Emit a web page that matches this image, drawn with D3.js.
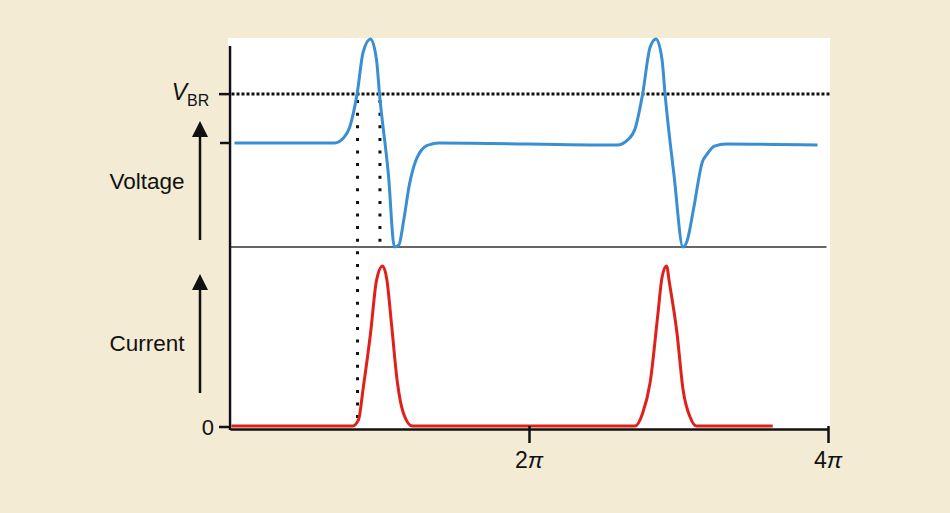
<!DOCTYPE html>
<html>
<head>
<meta charset="utf-8">
<script src="https://cdn.jsdelivr.net/npm/d3@7"></script>
<style>
  html, body { margin: 0; padding: 0; background: #f3ebd3; }
  svg { display: block; }
  text { font-family: "Liberation Sans", Arial, Helvetica, sans-serif; fill: #111; }
</style>
</head>
<body>
<svg id="chart" width="950" height="513"></svg>
<script>
// ---- data (x in units of π) ----
const voltX = [0.03,0.70,0.76,0.80,0.85,0.89,0.94,0.98,1.00,1.06,1.10,1.13,1.16,1.20,1.24,1.27,1.30,1.35,1.40,
               2.59,2.66,2.71,2.76,2.81,2.85,2.89,2.91,2.97,3.03,3.06,3.10,3.16,3.19,3.24,3.32,3.93];
const voltY = [1.0,1.0,1.05,1.15,1.47,1.87,2.0,1.80,1.47,0.69,0.0,0.02,0.24,0.60,0.82,0.91,0.96,0.99,1.0,
               0.98,1.03,1.14,1.47,1.92,2.0,1.80,1.47,0.69,0.0,0.07,0.36,0.82,0.89,0.97,0.99,0.98];
const currX = [0.01,0.82,0.86,0.89,0.94,0.98,1.02,1.05,1.08,1.12,1.16,1.22,
               2.71,2.76,2.81,2.86,2.89,2.92,2.94,2.99,3.03,3.08,3.12,3.63];
const currY = [0,0,0.04,0.23,0.58,0.91,1.0,0.91,0.64,0.27,0.08,0,
               0,0.08,0.27,0.68,0.93,1.0,0.89,0.58,0.23,0.05,0,0];
const vBreakdown = 1.47;      // V_BR level
const vBaseline = 1.0;        // quiescent voltage
const vbrCrossings = [0.853, 1.003];   // where the first pulse crosses V_BR
const xTickValues = [2, 4];
const xTickLabels = ["2", "4"];        // followed by italic π
const yLabelVoltage = "Voltage";
const yLabelCurrent = "Current";

// ---- scales ----
const svg = d3.select("#chart");
const x = d3.scaleLinear().domain([0, 4]).range([230, 828]);
const yV = d3.scaleLinear().domain([0, 2]).range([247, 39]);
const yC = d3.scaleLinear().domain([0, 1]).range([426, 266]);

// white plotting area
svg.append("rect").attr("x", 228).attr("y", 38).attr("width", 602).attr("height", 391).attr("fill", "#ffffff");

// voltage zero line
svg.append("line").attr("x1", x(0)).attr("x2", x(3.99)).attr("y1", yV(0)).attr("y2", yV(0))
  .attr("stroke", "#333").attr("stroke-width", 1.5);

// V_BR horizontal dotted line
svg.append("line").attr("x1", x(0.01)).attr("x2", 830).attr("y1", yV(vBreakdown)).attr("y2", yV(vBreakdown))
  .attr("stroke", "#111").attr("stroke-width", 3).attr("stroke-dasharray", "3 2");

// vertical dotted lines
svg.append("line").attr("x1", x(vbrCrossings[0])).attr("x2", x(vbrCrossings[0]))
  .attr("y1", yV(vBreakdown) + 6).attr("y2", yC(0))
  .attr("stroke", "#111").attr("stroke-width", 3).attr("stroke-dasharray", "3 9.6");
svg.append("line").attr("x1", x(vbrCrossings[1])).attr("x2", x(vbrCrossings[1]))
  .attr("y1", yV(vBreakdown) + 6).attr("y2", yV(0))
  .attr("stroke", "#111").attr("stroke-width", 3).attr("stroke-dasharray", "3 9.6");

// voltage curve
const vData = voltX.map((d, i) => [d, voltY[i]]);
svg.append("path").datum(vData)
  .attr("d", d3.line().x(d => x(d[0])).y(d => yV(d[1])).curve(d3.curveMonotoneX))
  .attr("fill", "none").attr("stroke", "#3a8fd2").attr("stroke-width", 3).attr("stroke-linejoin", "round");

// current curve
const cData = currX.map((d, i) => [d, currY[i]]);
svg.append("path").datum(cData)
  .attr("d", d3.line().x(d => x(d[0])).y(d => yC(d[1])).curve(d3.curveMonotoneX))
  .attr("fill", "none").attr("stroke", "#e0211b").attr("stroke-width", 3).attr("stroke-linejoin", "round");

// x axis
const xAxis = svg.append("g").attr("transform", "translate(0,429)")
  .call(d3.axisBottom(x).tickValues(xTickValues).tickFormat("").tickSizeInner(14).tickSizeOuter(0));
xAxis.select(".domain").attr("stroke", "#111").attr("stroke-width", 2.5);
xAxis.selectAll(".tick line").attr("stroke", "#111").attr("stroke-width", 2.5).attr("y1", -3);
xTickValues.forEach((v, i) => {
  const t = svg.append("text").attr("x", x(v)).attr("y", 468).attr("text-anchor", "middle")
    .style("font-size", "23px");
  t.append("tspan").text(xTickLabels[i]);
  t.append("tspan").style("font-style", "italic").text("π");
});

// y axis
svg.append("line").attr("x1", 230).attr("x2", 230).attr("y1", 46).attr("y2", 430)
  .attr("stroke", "#111").attr("stroke-width", 2.5);
[[yV(vBreakdown), 219], [yV(vBaseline), 220], [yC(0) + 1, 219]].forEach(([yy, x0]) => {
  svg.append("line").attr("x1", x0).attr("x2", 230).attr("y1", yy).attr("y2", yy)
    .attr("stroke", "#111").attr("stroke-width", 2.5);
});

// V_BR label
svg.append("text").attr("x", 187).attr("y", 100).attr("text-anchor", "end")
  .style("font-size", "23px").style("font-style", "italic").text("V");
svg.append("text").attr("x", 187).attr("y", 106).style("font-size", "16px").text("BR");

// 0 label
svg.append("text").attr("x", 214).attr("y", 435).attr("text-anchor", "end")
  .style("font-size", "22px").text("0");

// axis titles
svg.append("text").attr("x", 147).attr("y", 189).attr("text-anchor", "middle")
  .style("font-size", "22.5px").text(yLabelVoltage);
svg.append("text").attr("x", 147).attr("y", 351).attr("text-anchor", "middle")
  .style("font-size", "22.5px").text(yLabelCurrent);

// arrows
function arrow(xa, yBottom, yTip) {
  svg.append("line").attr("x1", xa).attr("x2", xa).attr("y1", yBottom).attr("y2", yTip + 12)
    .attr("stroke", "#111").attr("stroke-width", 2.5);
  svg.append("path").attr("d", `M${xa},${yTip} L${xa - 8},${yTip + 16} L${xa + 8},${yTip + 16} Z`)
    .attr("fill", "#111");
}
arrow(200, 240, 121);
arrow(200, 393, 274);
</script>
</body>
</html>
